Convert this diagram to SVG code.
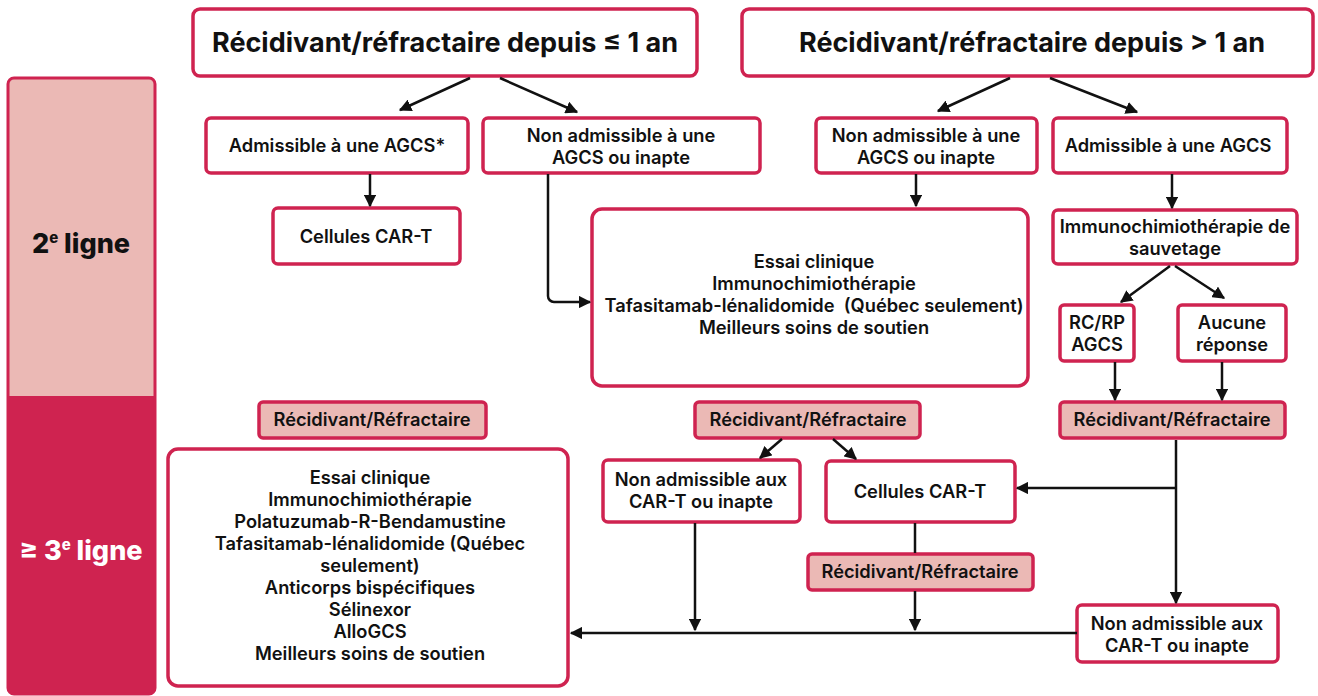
<svg xmlns="http://www.w3.org/2000/svg" width="1318" height="696" viewBox="0 0 1318 696">
<style>
.box{fill:#fff;stroke:#CF2350;stroke-width:3.5}
.pk{fill:#EBB9B5;stroke:#CF2350;stroke-width:3.5}
.t{font-family:Inter,"Liberation Sans",sans-serif;font-weight:600;font-size:18.3px;fill:#111;text-anchor:middle}
.h{font-family:Inter,"Liberation Sans",sans-serif;font-weight:700;font-size:27px;fill:#111;text-anchor:middle}
.s{font-family:Inter,"Liberation Sans",sans-serif;font-weight:800;font-size:27px;text-anchor:middle}
.c{fill:none;stroke:#111;stroke-width:2.5}
</style>
<defs>
<marker id="a" viewBox="0 0 10 10" refX="9" refY="5" markerWidth="5" markerHeight="5" orient="auto" markerUnits="strokeWidth">
<path d="M0,0 L10,5 L0,10 z" fill="#111"/>
</marker>
</defs>

<g id="side">
<path d="M13,78 H149 a6,6 0 0 1 6,6 V396 H8 V84 a6,6 0 0 1 5,-6 z" fill="#EBB9B5"/>
<path d="M8,396 H155 V688 a6,6 0 0 1 -6,6 H14 a6,6 0 0 1 -6,-6 z" fill="#CF2350"/>
<rect x="8" y="78" width="147" height="616" rx="6" fill="none" stroke="#CF2350" stroke-width="3"/>
<text class="s" x="81" y="253" fill="#111">2<tspan font-size="15" dy="-10">e</tspan><tspan dy="10"> ligne</tspan></text>
<text class="s" x="81" y="560" fill="#fff">≥ 3<tspan font-size="15" dy="-10">e</tspan><tspan dy="10"> ligne</tspan></text>
</g>

<g id="n1"><rect class="box" x="193" y="9" width="504" height="67" rx="7"/><text class="h" x="445" y="52">Récidivant/réfractaire depuis ≤ 1 an</text></g>
<g id="n2"><rect class="box" x="742" y="9" width="571" height="67" rx="7"/><text class="h" x="1032" y="52">Récidivant/réfractaire depuis &gt; 1 an</text></g>

<g id="n3"><rect class="box" x="206" y="118" width="262" height="55" rx="5"/><text class="t" x="337" y="152">Admissible à une AGCS*</text></g>
<g id="n4"><rect class="box" x="483" y="118" width="277" height="55" rx="5"/><text class="t" x="621" y="142">Non admissible à une</text><text class="t" x="621" y="164">AGCS ou inapte</text></g>
<g id="n5"><rect class="box" x="816" y="118" width="221" height="55" rx="5"/><text class="t" x="926" y="142">Non admissible à une</text><text class="t" x="926" y="164">AGCS ou inapte</text></g>
<g id="n6"><rect class="box" x="1053" y="118" width="234" height="55" rx="5"/><text class="t" x="1168" y="152">Admissible à une AGCS</text></g>

<g id="n7"><rect class="box" x="273" y="208" width="187" height="56" rx="5"/><text class="t" x="366" y="243">Cellules CAR-T</text></g>
<g id="n8"><rect class="box" x="592" y="209" width="436" height="177" rx="10"/>
<text class="t" x="814" y="268">Essai clinique</text>
<text class="t" x="814" y="290">Immunochimiothérapie</text>
<text class="t" x="814" y="312">Tafasitamab-lénalidomide&#160; (Québec seulement)</text>
<text class="t" x="814" y="334">Meilleurs soins de soutien</text></g>
<g id="n9"><rect class="box" x="1053" y="210" width="244" height="54" rx="5"/><text class="t" x="1175" y="233">Immunochimiothérapie de</text><text class="t" x="1175" y="255">sauvetage</text></g>
<g id="n10"><rect class="box" x="1060" y="305" width="74" height="56" rx="4"/><text class="t" x="1097" y="329">RC/RP</text><text class="t" x="1097" y="351">AGCS</text></g>
<g id="n11"><rect class="box" x="1178" y="305" width="108" height="56" rx="4"/><text class="t" x="1232" y="329">Aucune</text><text class="t" x="1232" y="351">réponse</text></g>

<g id="n12"><rect class="pk" x="259" y="402" width="227" height="36" rx="4"/><text class="t" x="372" y="426">Récidivant/Réfractaire</text></g>
<g id="n13"><rect class="pk" x="695" y="402" width="225" height="36" rx="4"/><text class="t" x="808" y="426">Récidivant/Réfractaire</text></g>
<g id="n14"><rect class="pk" x="1060" y="402" width="225" height="36" rx="4"/><text class="t" x="1172" y="426">Récidivant/Réfractaire</text></g>

<g id="n15"><rect class="box" x="168" y="449" width="400" height="237" rx="10"/>
<text class="t" x="370" y="484">Essai clinique</text>
<text class="t" x="370" y="506">Immunochimiothérapie</text>
<text class="t" x="370" y="528">Polatuzumab-R-Bendamustine</text>
<text class="t" x="370" y="550">Tafasitamab-lénalidomide (Québec</text>
<text class="t" x="370" y="572">seulement)</text>
<text class="t" x="370" y="594">Anticorps bispécifiques</text>
<text class="t" x="370" y="616">Sélinexor</text>
<text class="t" x="370" y="638">AlloGCS</text>
<text class="t" x="370" y="660">Meilleurs soins de soutien</text></g>

<g id="n16"><rect class="box" x="603" y="460" width="197" height="62" rx="5"/><text class="t" x="701" y="486">Non admissible aux</text><text class="t" x="701" y="508">CAR-T ou inapte</text></g>
<g id="n17"><rect class="box" x="826" y="461" width="189" height="61" rx="5"/><text class="t" x="920" y="498">Cellules CAR-T</text></g>
<g id="n18"><rect class="pk" x="808" y="554" width="225" height="36" rx="4"/><text class="t" x="920" y="578">Récidivant/Réfractaire</text></g>
<g id="n19"><rect class="box" x="1077" y="605" width="201" height="57" rx="5"/><text class="t" x="1177" y="630">Non admissible aux</text><text class="t" x="1177" y="652">CAR-T ou inapte</text></g>

<g id="connectors">
<path class="c" d="M470,78 L400,110" marker-end="url(#a)"/>
<path class="c" d="M500,78 L577,112" marker-end="url(#a)"/>
<path class="c" d="M1010,78 L938,111" marker-end="url(#a)"/>
<path class="c" d="M1050,78 L1137,112" marker-end="url(#a)"/>
<path class="c" d="M370,174 V206" marker-end="url(#a)"/>
<path class="c" d="M548,174 V296 a6,6 0 0 0 6,6 H590" marker-end="url(#a)"/>
<path class="c" d="M916,174 V206" marker-end="url(#a)"/>
<path class="c" d="M1172,174 V208" marker-end="url(#a)"/>
<path class="c" d="M1170,266 L1121,302" marker-end="url(#a)"/>
<path class="c" d="M1175,266 L1224,298" marker-end="url(#a)"/>
<path class="c" d="M1115,362 V400" marker-end="url(#a)"/>
<path class="c" d="M1222,362 V400" marker-end="url(#a)"/>
<path class="c" d="M782,439 L760,458" marker-end="url(#a)"/>
<path class="c" d="M833,439 L856,459" marker-end="url(#a)"/>
<path class="c" d="M1176,440 V603" marker-end="url(#a)"/>
<path class="c" d="M1176,488 H1017" marker-end="url(#a)"/>
<path class="c" d="M915,523 V553"/>
<path class="c" d="M915,591 V630" marker-end="url(#a)"/>
<path class="c" d="M695,523 V630" marker-end="url(#a)"/>
<path class="c" d="M1077,633 H571" marker-end="url(#a)"/>
</g>
</svg>
